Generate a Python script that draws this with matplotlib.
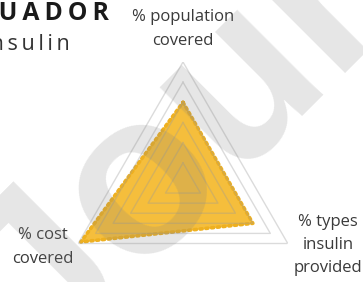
import numpy as np
import matplotlib
matplotlib.use("Agg")
import matplotlib.pyplot as plt

# radar data (fractions of 1)
categories = ["% population\ncovered", "% types\ninsulin\nprovided", "% cost\ncovered"]
values = [0.80, 0.80, 1.17]
grid_levels = [0.2, 0.4, 0.6, 0.8, 1.0, 1.2]
title_text = "ECUADOR"
subtitle_text = "Insulin"
watermark = "Journal Pre-proof"

W, H = 363, 282
fig = plt.figure(figsize=(W / 100, H / 100), dpi=100)
fig.patch.set_facecolor("white")

# polar axes: centre (183, 183) px, radius 121 px
cx, cy, R = 183, 183, 121
ax = fig.add_axes([(cx - R) / W, (H - cy - R) / H, 2 * R / W, 2 * R / H],
                  projection="polar")
ax.set_theta_offset(np.pi / 2)
ax.set_theta_direction(-1)
ax.set_ylim(0, 1.2)
ax.axis("off")

n = len(categories)
angles = np.linspace(0, 2 * np.pi, n, endpoint=False)
ang_closed = np.append(angles, angles[0])

vals = np.append(values, values[0])
ax.fill(ang_closed, vals, color="#f5be3c", zorder=2, lw=0)
ax.plot(ang_closed, vals, color="#eeb020", lw=2.6, ls=(0, (0.6, 1.0)),
        dash_capstyle="round", zorder=3)

for lv in grid_levels:
    ax.plot(ang_closed, [lv] * (n + 1), color="#9a9a9a", lw=1.0,
            alpha=0.35, zorder=4)

# category labels
lab_font = dict(family="Open Sans", fontsize=12, color="#3a3a3a",
                ha="center", va="center", linespacing=1.6)
fig.text(183 / W, 1 - 29 / H, categories[0], **lab_font)
fig.text(328 / W, 1 - 245 / H, categories[1], **lab_font)
fig.text(43 / W, 1 - 247 / H, categories[2], **lab_font)

# title (cut off at the left edge, as in the source), letter-spaced
fams = ["Open Sans", "DejaVu Sans"]
fig.text(109 / W, 1 - 13.5 / H, "\u2009".join(title_text), fontsize=17.8,
         fontweight="bold", family=fams, color="#1a1a1a",
         ha="right", va="center")
fig.text(70 / W, 1 - 44 / H, "\u2009".join(subtitle_text), fontsize=15.5,
         family=fams, color="#333333", ha="right", va="center")

# watermark
fig.text(47 / W, 1 - 372 / H, watermark, fontsize=165, color="#808080",
         family="Liberation Sans", fontweight="bold", alpha=0.2,
         rotation=45, rotation_mode="anchor", ha="left", va="baseline",
         zorder=10)

fig.savefig("out.png", dpi=100)
